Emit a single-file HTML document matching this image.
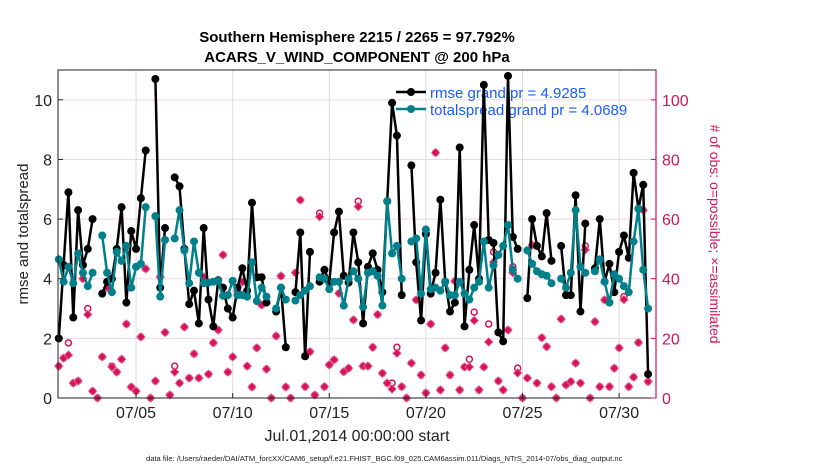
<!DOCTYPE html>
<html><head><meta charset="utf-8"><style>
html,body{margin:0;padding:0;background:#fff;}
svg{display:block;font-family:"Liberation Sans",Arial,sans-serif;}
</style></head><body>
<svg id="chart" width="830" height="470" viewBox="0 0 830 470" xmlns="http://www.w3.org/2000/svg">
<text x="357" y="42" text-anchor="middle" font-size="15" font-weight="bold" fill="#000">Southern Hemisphere 2215 / 2265 = 97.792%</text>
<text x="357" y="62" text-anchor="middle" font-size="15" font-weight="bold" fill="#000">ACARS_V_WIND_COMPONENT @ 200 hPa</text>
<g id="grid"></g>
<g>
<line x1="396" y1="92" x2="426" y2="92" stroke="#000" stroke-width="2.5"/>
<circle cx="411" cy="92" r="4" fill="#000"/>
<text x="430" y="98" font-size="15" fill="#1a5cff">rmse grand pr = 4.9285</text>
<line x1="396" y1="109" x2="426" y2="109" stroke="#00808a" stroke-width="2.5"/>
<circle cx="411" cy="109" r="4" fill="#00808a"/>
<text x="430" y="115" font-size="15" fill="#1a5cff">totalspread grand pr = 4.0689</text>
</g>
<g id="obs"></g>
<g id="lines"></g>
<rect x="58" y="70" width="598" height="328" fill="none" stroke="#222" stroke-width="1"/>
<line x1="656" y1="70" x2="656" y2="398" stroke="#d4145a" stroke-width="1.2"/>
<g id="axes"></g>
<text transform="translate(28,234) rotate(-90)" text-anchor="middle" font-size="15" fill="#222">rmse and totalspread</text>
<text transform="translate(710,234) rotate(90)" text-anchor="middle" font-size="14" fill="#d4145a"># of obs: o=possible; ×=assimilated</text>
<text x="357" y="441" text-anchor="middle" font-size="16" fill="#222">Jul.01,2014 00:00:00 start</text>
<text x="146" y="461" font-size="7.6" fill="#222">data file: /Users/raeder/DAI/ATM_forcXX/CAM6_setup/f.e21.FHIST_BGC.f09_025.CAM6assim.011/Diags_NTrS_2014-07/obs_diag_output.nc</text>
</svg>
<script>
var N = NaN;
var rmse = [2.0,4.46,6.9,2.7,6.3,4.46,5.0,6.0,N,3.5,3.9,4.0,5.0,6.4,3.2,5.6,5.0,6.7,8.3,N,10.7,3.7,5.7,N,7.4,7.1,
5.0,3.15,3.6,2.5,5.7,3.3,2.4,3.95,3.7,3.0,2.7,3.7,4.35,3.6,6.55,4.05,4.05,3.2,N,2.9,3.7,1.7,N,3.55,5.55,
1.4,4.9,N,3.9,4.3,3.9,5.55,6.25,4.1,3.87,5.55,4.55,2.5,4.4,4.85,4.3,3.55,6.6,9.9,8.8,3.45,N,7.8,4.55,2.6,
5.5,3.5,4.2,6.65,3.9,2.9,3.2,8.4,2.4,4.3,5.8,4.0,10.5,5.3,5.2,2.2,1.9,10.8,5.4,5.0,N,3.35,6.0,5.1,
4.75,6.2,4.6,N,5.1,3.45,3.45,6.8,2.9,5.85,N,4.35,6.0,3.9,4.5,3.55,4.9,5.45,4.7,7.55,6.35,7.15,0.8];
var spread = [4.65,3.9,4.4,3.85,4.85,4.2,3.75,4.2,N,5.45,4.2,3.55,4.9,4.6,5.1,3.7,4.4,4.5,6.4,N,6.1,3.4,5.3,N,5.35,6.3,
4.95,3.85,5.25,4.2,3.85,3.87,3.9,3.93,3.43,3.45,3.93,3.45,3.45,3.4,4.55,3.25,3.7,3.4,N,3.0,3.7,3.3,N,3.27,3.45,
3.6,3.75,N,4.05,4.0,3.65,3.9,3.9,3.1,4.0,4.25,4.0,3.05,4.2,4.25,4.1,3.1,6.6,4.85,5.1,4.0,N,5.25,5.35,3.5,
5.65,3.65,3.7,3.6,3.9,3.45,3.45,3.9,3.5,3.3,3.7,3.9,5.25,3.7,4.45,4.8,5.1,5.8,4.3,4.0,N,4.95,4.5,4.25,
4.15,4.1,3.85,N,4.0,3.7,4.2,6.3,4.4,4.2,N,4.25,4.65,3.9,3.2,4.15,4.0,3.75,3.55,5.25,6.35,4.3,3.0];
var assimilated = [10.7,13.4,14.4,5,5.7,40,28,2.3,0,13.8,37,10.4,8.7,13,24.8,3.7,2.3,20.5,43.3,0,5.7,40.6,22,1,8.7,5,
23.8,6.7,14.8,6.7,40.6,8,18.5,22.8,48,8.7,13.8,35.9,38.9,10.7,3.7,16.8,31.2,9.7,0,20.8,40.9,3.7,0,42,66.4,
3.8,15.5,1,60.8,3.8,11.1,12.8,35.1,8.8,10,26.2,64.2,10.7,10.7,17,28,8.3,5,3,15,3.8,0,11.7,32.9,7.7,
1.7,24.8,82.3,2.7,16.8,7.7,39.2,2.7,10.4,10.4,26,2.7,10.4,18.8,45.6,5.7,2.7,22.8,42,8.4,0,6.7,51.3,5,
20.2,17.2,3.8,0,26.5,4.4,5.5,11.7,5,49.7,0,25.6,3.8,32.9,3.8,10,16.8,33,3.8,7,18.6,63,5.5];
var possible = [10.7,13.4,18.5,5,5.7,40,30,2.3,0,13.8,37,10.7,8.7,13,24.8,3.7,2.3,20.5,43.3,0,5.7,40.6,22,1,10.7,5,
23.8,6.7,14.8,6.7,40.6,8,18.5,22.8,48,8.7,13.8,35.9,38.9,10.7,3.7,16.8,31.2,9.7,0,20.8,40.9,3.7,0,42,66.4,
3.8,15.5,1,62,3.8,11.1,12.8,35.1,8.8,10,26.2,66,10.7,10.7,17,28,8.3,5,5,17,3.8,0,11.7,32.9,7.7,
1.7,24.8,82.3,2.7,16.8,7.7,39.2,2.7,10.4,13,28.8,2.7,10.4,24.8,49,5.7,2.7,22.8,44,10,0,6.7,51.3,5,
20.2,17.2,3.8,0,26.5,4.4,5.5,11.7,5,51,0,25.6,3.8,32.9,3.8,10,16.8,34,3.8,7,18.6,63,5.5];
var leftTicks = [0,2,4,6,8,10];
var rightTicks = [0,20,40,60,80,100];
var xTickDays = [5,10,15,20,25,30];
var xTickLabels = ["07/05","07/10","07/15","07/20","07/25","07/30"];
var startDay = 1, stepDay = 0.25;

var X0=58, X1=656, Y0=398, Y1=70;
var DMIN=0.96, DMAX=31.91;
function xs(d){ return X0 + (d-DMIN)/(DMAX-DMIN)*(X1-X0); }
function yl(v){ return Y0 - v/11*(Y0-Y1); }
function yr(v){ return Y0 - v/110*(Y0-Y1); }
var NS="http://www.w3.org/2000/svg";
function mk(tag, attrs, parent){ var e=document.createElementNS(NS,tag); for(var k in attrs) e.setAttribute(k,attrs[k]); parent.appendChild(e); return e; }
var grid=document.getElementById('grid'), axes=document.getElementById('axes'), obs=document.getElementById('obs'), lines=document.getElementById('lines');

rightTicks.forEach(function(t){
  var y=yr(t);
  var g=mk('line',{x1:X0,x2:X1,y1:y,y2:y,stroke:'#f1d6e0','stroke-width':1},grid);
  
  
  var tk=mk('line',{x1:X1-5,x2:X1,y1:y,y2:y,stroke:'#d4145a','stroke-width':1},axes);
  
  
  var tx=mk('text',{x:662,y:y+6,'font-size':16,fill:'#d4145a'},axes);
  tx.textContent=t;
  
  
});
leftTicks.forEach(function(t){
  var y=yl(t);
  var tk=mk('line',{x1:X0,x2:X0+5,y1:y,y2:y,stroke:'#222','stroke-width':1},axes);
  
  
  var tx=mk('text',{x:52,y:y+6,'font-size':16,fill:'#222','text-anchor':'end'},axes);
  tx.textContent=t;
  
  
});
xTickDays.forEach(function(d,i){
  var x=xs(d);
  var g=mk('line',{x1:x,x2:x,y1:Y1,y2:Y0,stroke:'#dcdcdc','stroke-width':1},grid);
  
  
  var tk=mk('line',{x1:x,x2:x,y1:Y0-5,y2:Y0,stroke:'#222','stroke-width':1},axes);
  
  
  var tx=mk('text',{x:x,y:418,'font-size':16,fill:'#222','text-anchor':'middle'},axes);
  tx.textContent=xTickLabels[i];
  
  
});

possible.forEach(function(v,i){
  if(isNaN(v)) return;
  var c=mk('circle',{cx:xs(startDay+stepDay*i),cy:yr(v),r:3,fill:'none',stroke:'#d4145a','stroke-width':1.5},obs);
  
  
});
assimilated.forEach(function(v,i){
  if(isNaN(v)) return;
  var x=xs(startDay+stepDay*i), y=yr(v);
  var p=mk('path',{d:'M'+(x-4.2)+' '+y+'L'+x+' '+(y-4.2)+'L'+(x+4.2)+' '+y+'L'+x+' '+(y+4.2)+'Z',fill:'#d4145a',stroke:'#e86a98','stroke-width':0.8},obs);
  
  
});

function drawSeries(arr, color, name){
  var d='', pen=false;
  arr.forEach(function(v,i){
    if(isNaN(v)){ pen=false; return; }
    var x=xs(startDay+stepDay*i), y=yl(v);
    d += (pen?'L':'M')+x.toFixed(1)+' '+y.toFixed(1);
    pen=true;
  });
  var p=mk('path',{d:d,fill:'none',stroke:color,'stroke-width':2.5,'stroke-linejoin':'round'},lines);
  
  
  arr.forEach(function(v,i){
    if(isNaN(v)) return;
    var c=mk('circle',{cx:xs(startDay+stepDay*i),cy:yl(v),r:4,fill:color},lines);
    
    
  });
}
drawSeries(rmse,'#000','rmse');
drawSeries(spread,'#00808a','totalspread');
</script>
</body></html>
